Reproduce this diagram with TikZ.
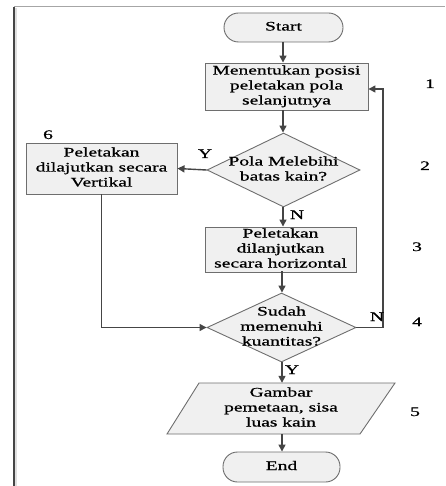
\documentclass[tikz,border=0pt]{standalone}
\usepackage{fontspec}
\setmainfont{Liberation Serif}[BoldFont=Liberation Serif, BoldFeatures={FakeBold=0.6}]
\usepackage{graphicx}
\usetikzlibrary{shapes.geometric,arrows.meta}
\newcommand{\tx}[1]{\scalebox{1.5}[1]{\begin{tabular}{@{}c@{}}#1\end{tabular}}}
\definecolor{ln}{HTML}{454545}
\definecolor{bd}{HTML}{6E6E6E}
\definecolor{fl}{HTML}{F0F0F0}
\begin{document}
\begin{tikzpicture}[x=1pt,y=-1pt,
  every node/.style={font=\fontsize{13}{15}\selectfont\bfseries, inner sep=0pt},
  proc/.style={draw=bd, line width=0.9pt, fill=fl, rectangle},
  term/.style={draw=bd, line width=0.9pt, fill=fl, rectangle, rounded corners=14.5pt},
  dia/.style={draw=bd, line width=0.9pt, fill=fl, diamond, aspect=2},
  conn/.style={draw=ln, line width=1.4pt, -{Triangle[length=7pt,width=7pt]}},
  lbl/.style={font=\fontsize{13}{15}\selectfont\bfseries}
]
\useasboundingbox (0,0) rectangle (445,486);
% frame
\draw[gray!70, line width=1pt] (14,7) -- (445,7);
\draw[gray!25, line width=1.5pt] (15.8,8) -- (15.8,486);
\draw[ln, line width=1.2pt] (14,7) -- (14,486);

% nodes
\node[term, minimum width=119pt, minimum height=29pt] (start) at (283.5,27.5) {\tx{Start}};
\node[proc, minimum width=163pt, minimum height=47pt] (b1) at (286.5,86.5) {\tx{Menentukan posisi\\peletakan pola\\selanjutnya}};
\node[dia, minimum width=153pt, minimum height=74pt] (d1) at (283.5,170) {};
\node at (d1) {\tx{Pola Melebihi\\batas kain?}};
\node[proc, minimum width=151pt, minimum height=51pt] (b6) at (101.5,168.5) {\tx{Peletakan\\dilajutkan secara\\Vertikal}};
\node[proc, minimum width=151pt, minimum height=43pt] (b3) at (280.5,249.5) {\tx{Peletakan\\dilanjutkan\\secara horizontal}};
\node[dia, minimum width=149pt, minimum height=69pt] (d2) at (281.5,327.5) {};
\node at (d2) {\tx{Sudah\\memenuhi\\kuantitas?}};
\draw[draw=bd, line width=0.9pt, fill=fl] (199,383) -- (395,383) -- (360,434) -- (167,434) -- cycle;
\node[minimum width=160pt, minimum height=51pt] (para) at (281,408.5) {\tx{Gambar\\pemetaan, sisa\\luas kain}};
\node[term, minimum width=117pt, minimum height=30pt] (end) at (281.5,467) {\tx{End}};

% connectors
\draw[conn] (283,42) coordinate (s1) -- (s1 |- b1.north);
\draw[conn] (283,110) coordinate (s2) -- (s2 |- d1.north);
\draw[conn] (d1.west) -- (b6.east);
\draw[conn] (283,207) coordinate (s3) -- (s3 |- b3.north);
\draw[conn] (282,271) coordinate (s4) -- (s4 |- d2.north);
\draw[conn] (b6.south) |- (d2.west);
\draw[conn] (d2.east) -- (383,327.5) coordinate (c1) -- (383,89) coordinate (c2) -- (c2 -| b1.east);
\draw[conn] (282,362) coordinate (s5) -- (s5 |- para.north);
\draw[conn] (282,434) coordinate (s6) -- (s6 |- end.north);

% labels
\node[lbl] (ly1) at (205,155) {\tx{Y}};
\node[lbl] (ln1) at (297,216) {\tx{N}};
\node[lbl] (ln2) at (377,318) {\tx{N}};
\node[lbl] (ly2) at (292,371) {\tx{Y}};
\node[lbl] (n1) at (430,85) {\tx{1}};
\node[lbl] (n2) at (425,167) {\tx{2}};
\node[lbl] (n3) at (417,248) {\tx{3}};
\node[lbl] (n4) at (417,323) {\tx{4}};
\node[lbl] (n5) at (415,413) {\tx{5}};
\node[lbl] (n6) at (48,136) {\tx{6}};
\end{tikzpicture}
\end{document}
